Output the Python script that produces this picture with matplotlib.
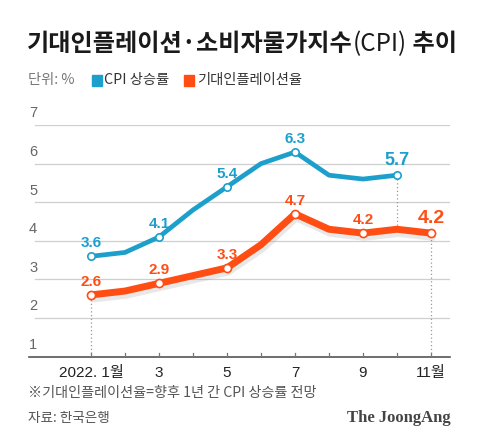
import matplotlib
matplotlib.use("Agg")
import matplotlib.pyplot as plt
import matplotlib.patheffects as pe

plt.rcParams['font.family'] = ['Noto Sans CJK KR', 'DejaVu Sans']

months = [1, 2, 3, 4, 5, 6, 7, 8, 9, 10, 11]
cpi = [3.6, 3.7, 4.1, 4.8, 5.4, 6.0, 6.3, 5.7, 5.6, 5.7]
expinf = [2.6, 2.7, 2.9, 3.1, 3.3, 3.9, 4.7, 4.3, 4.2, 4.3, 4.2]
cpi_marked = [1, 3, 5, 7, 10]
exp_marked = [1, 3, 5, 7, 9, 11]
yticks = [1, 2, 3, 4, 5, 6, 7]
xtick_pos = [1, 3, 5, 7, 9, 11]
xtick_labels = ["2022. 1월", "3", "5", "7", "9", "11월"]

BLUE = "#1d9fcc"
ORANGE = "#ff4d14"
GRID = "#cfcfcf"

W, H = 480, 446
fig = plt.figure(figsize=(W / 100, H / 100), dpi=100)
fig.patch.set_facecolor("white")

def fx(px):
    return px / W

def fy(py):
    return 1 - py / H

ax_left, ax_right = 29, 450
y_top, y_bot = 125, 356.7
ax = fig.add_axes([fx(ax_left), fy(y_bot), fx(ax_right) - fx(ax_left), fy(y_top) - fy(y_bot)])
ax.set_ylim(1, 7)
ppm = (431 - 91) / 10.0
ax.set_xlim(1 - (91 - ax_left) / ppm, 11 + (ax_right - 431) / ppm)
ax.axis("off")

tick_font = ['Liberation Sans', 'DejaVu Sans']
# gridlines
for yv in yticks[1:]:
    ax.plot([ax.get_xlim()[0] + 6 / ppm, ax.get_xlim()[1]], [yv, yv], color=GRID, lw=0.9, zorder=1)
for yv in yticks:
    ax.text(ax.get_xlim()[0], yv + 0.12, str(yv), fontsize=10.5, color="#666666",
            ha="left", va="bottom", family=tick_font)
# baseline axis
ax.plot(ax.get_xlim(), [1, 1], color="#555555", lw=1.2, zorder=2, clip_on=False)
for m in months:
    ax.plot([m, m], [1, 1.09], color="#777777", lw=0.9, zorder=2)

# dotted guide lines
ax.plot([1, 1], [1, expinf[0]], color="#999999", lw=0.9, ls=(0, (1, 2)), zorder=1.5)
ax.plot([11, 11], [1, expinf[10]], color="#999999", lw=0.9, ls=(0, (1, 2)), zorder=1.5)
ax.plot([10, 10], [expinf[9], cpi[9]], color="#999999", lw=0.9, ls=(0, (1, 2)), zorder=1.5)

# lines
ax.plot(months[:len(cpi)], cpi, color=BLUE, lw=3.4, solid_capstyle="round",
        solid_joinstyle="round", zorder=3)
ax.plot(months, expinf, color=ORANGE, lw=5.0, solid_capstyle="round", solid_joinstyle="round",
        zorder=3, path_effects=[pe.SimpleLineShadow(offset=(1, -3), shadow_color="#999999", alpha=0.22),
                                pe.Normal()])

# markers
ax.scatter(cpi_marked, [cpi[m - 1] for m in cpi_marked], s=28, facecolor="white",
           edgecolor=BLUE, linewidth=1.2, zorder=4, clip_on=False)
ax.scatter(exp_marked, [expinf[m - 1] for m in exp_marked], s=34, facecolor="white",
           edgecolor=ORANGE, linewidth=1.2, zorder=4, clip_on=False)

lab_font = ['Liberation Sans', 'DejaVu Sans']
for m in cpi_marked:
    big = (m == 10)
    ax.text(m, cpi[m - 1] + 0.16, f"{cpi[m - 1]:.1f}", color=BLUE, ha="center", va="bottom",
            fontsize=13 if big else 11, fontweight="bold", family=lab_font, zorder=5)
for m in exp_marked:
    big = (m == 11)
    ax.text(m, expinf[m - 1] + 0.16, f"{expinf[m - 1]:.1f}", color=ORANGE, ha="center", va="bottom",
            fontsize=14 if big else 11, fontweight="bold", family=lab_font, zorder=5)

# x tick labels
for pos, lab in zip(xtick_pos, xtick_labels):
    ax.text(pos, 1 - 0.25, lab, ha="center", va="top", fontsize=11, color="#222222",
            family=['Liberation Sans', 'Noto Sans CJK KR'])

# title in pieces (bold Korean, light "(CPI)")
fig.canvas.draw()
renderer = fig.canvas.get_renderer()
x_cur = 27
title_parts = [("기대인플레이션·소비자물가지수", 900), ("(CPI)", "normal"), (" 추이", 900)]
for txt, wt in title_parts:
    t = fig.text(fx(x_cur), fy(44), txt, fontsize=17.4, fontweight=wt, color="#1a1a1a",
                 ha="left", va="center")
    bb = t.get_window_extent(renderer=renderer)
    x_cur += bb.width

# legend row
leg_fs = 10.3
fig.text(fx(28), fy(80), "단위: %", fontsize=leg_fs, color="#777777", ha="left", va="center")
fig.patches.append(plt.Rectangle((fx(92), fy(86)), 10 / W, 11 / H, transform=fig.transFigure,
                                 color=BLUE, figure=fig))
fig.text(fx(104), fy(80), "CPI 상승률", fontsize=leg_fs, color="#333333", ha="left", va="center")
fig.patches.append(plt.Rectangle((fx(184), fy(86)), 10 / W, 11 / H, transform=fig.transFigure,
                                 color=ORANGE, figure=fig))
fig.text(fx(197), fy(80), "기대인플레이션율", fontsize=leg_fs, color="#333333", ha="left", va="center")

# footnotes
fig.text(fx(28), fy(393), "※기대인플레이션율=향후 1년 간 CPI 상승률 전망", fontsize=10.2,
         color="#555555", ha="left", va="center")
fig.text(fx(28), fy(418), "자료: 한국은행", fontsize=9.8, color="#555555", ha="left", va="center")
fig.text(fx(451), fy(418), "The JoongAng", fontsize=12, fontweight="bold", color="#444444",
         ha="right", va="center", family=['Liberation Serif', 'DejaVu Serif'])

fig.savefig("out.png", dpi=100, facecolor="white")
